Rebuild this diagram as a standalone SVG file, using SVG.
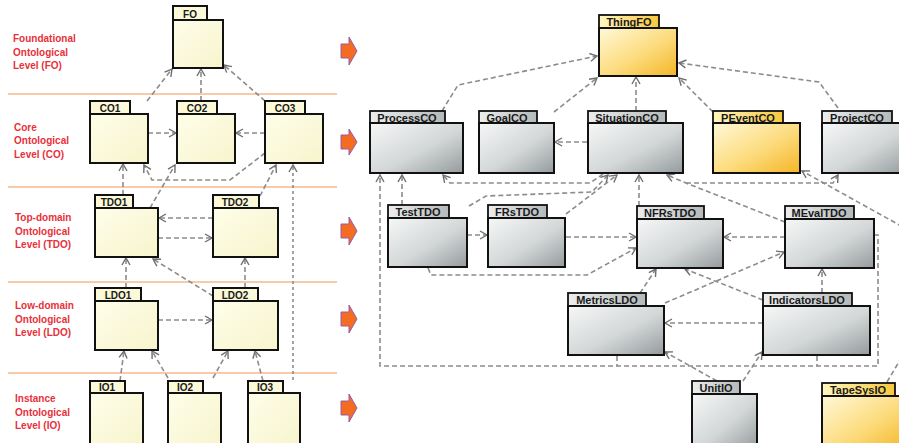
<svg xmlns="http://www.w3.org/2000/svg" width="899" height="443" viewBox="0 0 899 443">
<defs>
<linearGradient id="gGray" x1="0" y1="0" x2="1" y2="1"><stop offset="0" stop-color="#f6f7f7"/><stop offset="0.55" stop-color="#d3d7d8"/><stop offset="1" stop-color="#959b9d"/></linearGradient>
<linearGradient id="gGrayTab" x1="0" y1="0" x2="1" y2="0"><stop offset="0" stop-color="#eceeee"/><stop offset="1" stop-color="#b4b9ba"/></linearGradient>
<linearGradient id="gYel" x1="0" y1="0" x2="1" y2="1"><stop offset="0" stop-color="#fff8d8"/><stop offset="0.55" stop-color="#fcdb7c"/><stop offset="1" stop-color="#f4b526"/></linearGradient>
<linearGradient id="gYelTab" x1="0" y1="0" x2="1" y2="0"><stop offset="0" stop-color="#fff6c0"/><stop offset="1" stop-color="#f7c83c"/></linearGradient>
<linearGradient id="gCream" x1="0" y1="0" x2="1" y2="1"><stop offset="0" stop-color="#fefeea"/><stop offset="1" stop-color="#f7f4cc"/></linearGradient>
<marker id="ah" markerWidth="10" markerHeight="10" refX="8" refY="5" orient="auto" markerUnits="userSpaceOnUse"><path d="M1,1 L8,5 L1,9" fill="none" stroke="#6f6f6f" stroke-width="1.4"/></marker>
</defs>
<style>
.conn{fill:none;stroke:#8c8c8c;stroke-width:1.6;stroke-dasharray:5 3;marker-end:url(#ah)}
.dot{fill:none;stroke:#8c8c8c;stroke-width:1.6;stroke-dasharray:3 3;marker-end:url(#ah)}
.seg{fill:none;stroke:#8c8c8c;stroke-width:1.6;stroke-dasharray:5 3}
.sep{stroke:#f6b98a;stroke-width:1.6}
.lvl{font-family:"Liberation Sans",Arial,sans-serif;font-weight:bold;font-size:10px;fill:#e8303a}
.lbody{fill:url(#gCream);stroke:#111;stroke-width:2}
.ltab{fill:#fbf9d8;stroke:#111;stroke-width:2}
.gbody{fill:url(#gGray);stroke:#111;stroke-width:2}
.gtab{fill:url(#gGrayTab);stroke:#111;stroke-width:1.8}
.ybody{fill:url(#gYel);stroke:#111;stroke-width:2}
.ytab{fill:url(#gYelTab);stroke:#111;stroke-width:1.8}
.tl{font-family:"Liberation Sans",Arial,sans-serif;font-weight:bold;font-size:10px;fill:#1a1a1a;text-anchor:middle}
.tr{font-family:"Liberation Sans",Arial,sans-serif;font-weight:bold;font-size:11px;fill:#1a1a1a;text-anchor:middle}
.oarr{fill:#f36c21;stroke:#9a5ba8;stroke-width:1}
</style>
<rect width="899" height="443" fill="#ffffff"/>

<g id="levels">
<line class="sep" x1="8" y1="94" x2="337" y2="94"/>
<line class="sep" x1="8" y1="187" x2="337" y2="187"/>
<line class="sep" x1="8" y1="282" x2="337" y2="282"/>
<line class="sep" x1="8" y1="373" x2="337" y2="373"/>
<text class="lvl" x="13" y="42">Foundational</text>
<text class="lvl" x="13" y="56">Ontological</text>
<text class="lvl" x="13" y="69">Level (FO)</text>
<text class="lvl" x="14" y="131">Core</text>
<text class="lvl" x="14" y="144">Ontological</text>
<text class="lvl" x="14" y="158">Level (CO)</text>
<text class="lvl" x="15" y="221">Top-domain</text>
<text class="lvl" x="15" y="235">Ontological</text>
<text class="lvl" x="15" y="248">Level (TDO)</text>
<text class="lvl" x="15" y="309">Low-domain</text>
<text class="lvl" x="15" y="323">Ontological</text>
<text class="lvl" x="15" y="336">Level (LDO)</text>
<text class="lvl" x="15" y="402">Instance</text>
<text class="lvl" x="15" y="416">Ontological</text>
<text class="lvl" x="15" y="429">Level (IO)</text>
</g>

<g id="level-arrows">
<polygon class="oarr" points="341,44 349,44 349,37 357,51 349,65 349,58 341,58"/>
<polygon class="oarr" points="341,135 349,135 349,129 357,142 349,155 349,149 341,149"/>
<polygon class="oarr" points="341,224 349,224 349,217 357,231 349,245 349,238 341,238"/>
<polygon class="oarr" points="341,312 349,312 349,305 357,319 349,333 349,326 341,326"/>
<polygon class="oarr" points="341,401 349,401 349,394 357,408 349,422 349,415 341,415"/>
</g>

<g id="connectors">
<path class="conn" d="M147,101 L172,69"/>
<path class="conn" d="M201,101 L201,69"/>
<path class="conn" d="M265,101 L224,65"/>
<path class="conn" d="M148,133 L176,133"/>
<path class="conn" d="M265,133 L236,133"/>
<path class="conn" d="M123,195 L123,164"/>
<path class="conn" d="M265,153 L230,180 L152,180 L144,165"/>
<path class="conn" d="M150,208 L175,165"/>
<path class="conn" d="M260,196 L276,165"/>
<path class="dot" d="M293,380 L293,165"/>
<path class="conn" d="M213,218 L159,218"/>
<path class="conn" d="M158,238 L212,238"/>
<path class="conn" d="M126,288 L126,258"/>
<path class="conn" d="M213,296 L153,259"/>
<path class="conn" d="M245,288 L245,258"/>
<path class="conn" d="M158,320 L212,320"/>
<path class="conn" d="M120,381 L124,351"/>
<path class="conn" d="M168,378 L152,351"/>
<path class="conn" d="M213,378 L228,351"/>
<path class="conn" d="M263,381 L255,351"/>
<path class="conn" d="M442,111 L458,85 L597,56"/>
<path class="conn" d="M554,112 L597,78"/>
<path class="conn" d="M636,111 L636,77"/>
<path class="conn" d="M713,112 L679,78"/>
<path class="conn" d="M838,108 L819,82 L679,63"/>
<path class="conn" d="M587,142 L555,142"/>
<path class="conn" d="M603,174 L590,183 L450,183 L443,175"/>
<path class="conn" d="M469,206 L486,196 L592,192 L608,175"/>
<path class="conn" d="M566,214 L617,175"/>
<path class="conn" d="M639,206 L639,175"/>
<path class="conn" d="M785,222 L686,183 L667,175"/>
<path class="conn" d="M686,183 L833,183 L838,175"/>
<path class="conn" d="M887,382 L912,340 L912,232 L802,171"/>
<path class="conn" d="M402,205 L402,175"/>
<path class="conn" d="M874,235 L878,235 L878,366 L380,366 L380,175"/>
<path class="seg" d="M617,356 L617,366"/>
<path class="seg" d="M817,356 L817,366"/>
<path class="conn" d="M467,235 L487,235"/>
<path class="conn" d="M566,237 L636,237"/>
<path class="conn" d="M428,268 L431,275 L587,275 L636,248"/>
<path class="conn" d="M785,237 L724,237"/>
<path class="conn" d="M640,293 L656,269"/>
<path class="conn" d="M665,303 L784,252"/>
<path class="conn" d="M763,300 L685,269"/>
<path class="conn" d="M822,293 L822,269"/>
<path class="conn" d="M763,323 L665,323"/>
<path class="conn" d="M717,381 L665,352"/>
<path class="conn" d="M743,381 L762,352"/>
</g>

<g id="FO"><rect class="ltab" x="173" y="6" width="34" height="14"/><rect class="lbody" x="173" y="20" width="50" height="48"/><text class="tl" x="190" y="17.5">FO</text></g>
<g id="CO1"><rect class="ltab" x="90" y="101" width="40" height="13"/><rect class="lbody" x="90" y="114" width="58" height="49"/><text class="tl" x="110" y="112">CO1</text></g>
<g id="CO2"><rect class="ltab" x="177" y="101" width="40" height="13"/><rect class="lbody" x="177" y="114" width="58" height="49"/><text class="tl" x="197" y="112">CO2</text></g>
<g id="CO3"><rect class="ltab" x="265" y="101" width="40" height="13"/><rect class="lbody" x="265" y="114" width="58" height="49"/><text class="tl" x="285" y="112">CO3</text></g>
<g id="TDO1"><rect class="ltab" x="95" y="195" width="38" height="13"/><rect class="lbody" x="95" y="208" width="63" height="49"/><text class="tl" x="114" y="206">TDO1</text></g>
<g id="TDO2"><rect class="ltab" x="213" y="195" width="46" height="13"/><rect class="lbody" x="213" y="208" width="65" height="49"/><text class="tl" x="235" y="206">TDO2</text></g>
<g id="LDO1"><rect class="ltab" x="95" y="288" width="46" height="13"/><rect class="lbody" x="95" y="301" width="63" height="49"/><text class="tl" x="118" y="299">LDO1</text></g>
<g id="LDO2"><rect class="ltab" x="213" y="288" width="45" height="13"/><rect class="lbody" x="213" y="301" width="65" height="49"/><text class="tl" x="235" y="299">LDO2</text></g>
<g id="IO1"><rect class="ltab" x="90" y="381" width="35" height="12"/><rect class="lbody" x="90" y="393" width="53" height="55"/><text class="tl" x="107" y="391">IO1</text></g>
<g id="IO2"><rect class="ltab" x="168" y="381" width="35" height="12"/><rect class="lbody" x="168" y="393" width="53" height="55"/><text class="tl" x="185" y="391">IO2</text></g>
<g id="IO3"><rect class="ltab" x="248" y="381" width="35" height="12"/><rect class="lbody" x="248" y="393" width="52" height="55"/><text class="tl" x="265" y="391">IO3</text></g>

<g id="ThingFO"><rect class="ytab" x="599" y="15" width="60" height="13"/><rect class="ybody" x="599" y="28" width="78" height="48"/><text class="tr" x="629" y="26">ThingFO</text></g>
<g id="ProcessCO"><rect class="gtab" x="370" y="111" width="75" height="12"/><rect class="gbody" x="370" y="123" width="93" height="50"/><text class="tr" x="407" y="121.5">ProcessCO</text></g>
<g id="GoalCO"><rect class="gtab" x="479" y="111" width="58" height="12"/><rect class="gbody" x="479" y="123" width="75" height="50"/><text class="tr" x="507" y="121.5">GoalCO</text></g>
<g id="SituationCO"><rect class="gtab" x="588" y="111" width="78" height="12"/><rect class="gbody" x="588" y="123" width="95" height="50"/><text class="tr" x="627" y="121.5">SituationCO</text></g>
<g id="PEventCO"><rect class="ytab" x="713" y="111" width="70" height="12"/><rect class="ybody" x="713" y="123" width="87" height="50"/><text class="tr" x="748" y="121.5">PEventCO</text></g>
<g id="ProjectCO"><rect class="gtab" x="822" y="111" width="70" height="12"/><rect class="gbody" x="822" y="123" width="85" height="50"/><text class="tr" x="857" y="121.5">ProjectCO</text></g>
<g id="TestTDO"><rect class="gtab" x="388" y="205" width="61" height="13"/><rect class="gbody" x="388" y="218" width="79" height="49"/><text class="tr" x="418" y="216">TestTDO</text></g>
<g id="FRsTDO"><rect class="gtab" x="488" y="205" width="59" height="13"/><rect class="gbody" x="488" y="218" width="77" height="49"/><text class="tr" x="517" y="216">FRsTDO</text></g>
<g id="NFRsTDO"><rect class="gtab" x="637" y="206" width="67" height="13"/><rect class="gbody" x="637" y="219" width="86" height="49"/><text class="tr" x="670" y="217">NFRsTDO</text></g>
<g id="MEvalTDO"><rect class="gtab" x="785" y="206" width="69" height="13"/><rect class="gbody" x="785" y="219" width="89" height="49"/><text class="tr" x="819" y="217">MEvalTDO</text></g>
<g id="MetricsLDO"><rect class="gtab" x="568" y="293" width="78" height="13"/><rect class="gbody" x="568" y="306" width="96" height="49"/><text class="tr" x="607" y="304">MetricsLDO</text></g>
<g id="IndicatorsLDO"><rect class="gtab" x="763" y="293" width="89" height="13"/><rect class="gbody" x="763" y="306" width="107" height="49"/><text class="tr" x="807" y="304">IndicatorsLDO</text></g>
<g id="UnitIO"><rect class="gtab" x="692" y="381" width="48" height="13"/><rect class="gbody" x="692" y="394" width="65" height="55"/><text class="tr" x="716" y="392">UnitIO</text></g>
<g id="TapeSysIO"><rect class="ytab" x="822" y="383" width="73" height="13"/><rect class="ybody" x="822" y="396" width="85" height="55"/><text class="tr" x="858" y="394">TapeSysIO</text></g>
</svg>
